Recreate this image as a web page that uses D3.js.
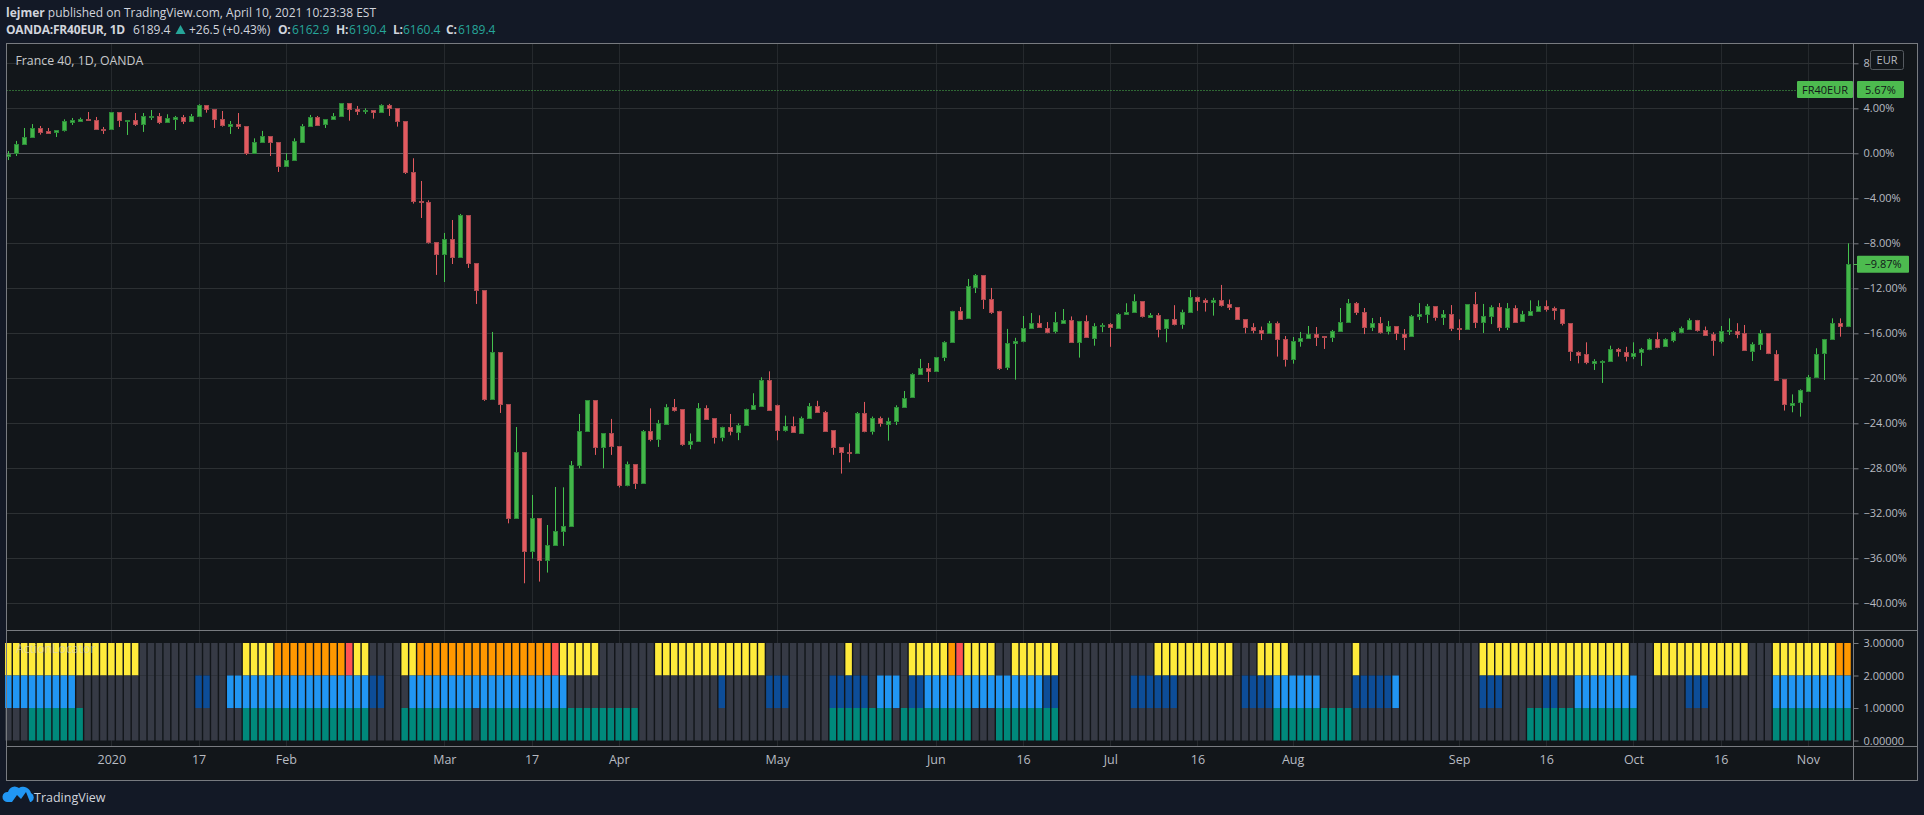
<!DOCTYPE html>
<html>
<head>
<meta charset="utf-8">
<title>France 40, 1D, OANDA</title>
<script src="https://cdnjs.cloudflare.com/ajax/libs/d3/7.8.5/d3.min.js"></script>
<style>
    html, body { margin: 0; padding: 0; background: #131926; overflow: hidden; }
    svg { display: block; }
    text { font-family: "Open Sans", sans-serif; }
</style>
</head>
<body>
<svg id="chart" width="1924" height="815"></svg>
<script>
// daily candles, in percent from the first bar of the chart
const opens = [
    -0.2, 0, 0.77, 1.39, 2.22, 1.98, 1.84, 2.01, 2.81, 2.9,
    3.02, 2.93, 2.16, 2.1, 3.64, 2.9, 2.93, 2.55, 3.23, 3.29,
    2.73, 3.08, 3.2, 2.81, 3.26, 4.27, 3.91, 3.02, 2.46, 2.58,
    2.4, 0, 0.95, 1.51, 0.98, -1.19, -0.65, 1.01, 2.37, 3.2,
    2.55, 2.99, 3.26, 4.44, 3.91, 3.7, 3.82, 3.61, 4.27, 4.0,
    2.84, -1.69, -4.27, -4.36, -7.91, -9.01, -7.64, -9.27, -5.51, -9.78,
    -12.18, -21.9, -17.69, -22.31, -32.48, -26.58, -35.38, -32.44, -36.21, -34.84,
    -33.63, -33.16, -27.76, -24.71, -21.96, -26.16, -24.89, -26.04, -29.54, -27.64,
    -29.36, -24.71, -25.45, -24.0, -22.52, -22.73, -25.81, -25.54, -22.61, -23.56,
    -25.27, -24.36, -24.74, -24.2, -22.76, -22.43, -20.15, -22.34, -24.53, -24.24,
    -24.8, -23.5, -22.43, -22.96, -24.62, -26.13, -26.58, -26.7, -23.11, -24.74,
    -23.56, -24.0, -23.76, -22.52, -21.72, -19.64, -19.11, -19.41, -18.13, -16.8,
    -14.02, -14.7, -11.88, -10.85, -12.95, -14.01, -19.05, -16.89, -16.71, -15.56,
    -15.11, -15.5, -15.85, -15.07, -14.84, -16.8, -14.93, -16.36, -15.35, -15.2,
    -15.5, -14.25, -14.13, -13.16, -14.52, -14.34, -15.56, -14.73, -15.14, -14.07,
    -12.74, -13.04, -13.2, -13.0, -13.42, -13.69, -14.76, -15.47, -15.7, -16.0,
    -15.11, -16.53, -18.34, -16.74, -16.48, -16.07, -16.24, -16.39, -15.86, -15.05,
    -13.34, -14.14, -15.5, -15.12, -15.86, -15.38, -16.03, -16.3, -14.52, -14.34,
    -13.6, -14.61, -14.32, -15.56, -15.68, -13.43, -15.05, -14.52, -13.69, -15.5,
    -13.78, -14.96, -14.3, -14.0, -13.54, -13.75, -13.87, -15.11, -17.63, -17.87,
    -18.7, -18.52, -18.52, -17.41, -17.63, -18.0, -17.72, -17.43, -16.53, -17.18,
    -16.6, -15.93, -15.6, -14.81, -15.67, -16.1, -16.65, -15.8, -15.76, -16.0,
    -17.54, -16.98, -16.0, -17.81, -20.09, -22.37, -22.13, -21.07, -19.85, -17.78,
    -16.56, -15.11, -15.41
];
const highs = [
    0.2, 1.1, 2.25, 2.6, 2.43, 2.25, 2.04, 3.02, 3.14, 3.17,
    3.67, 3.23, 2.34, 3.64, 3.64, 2.96, 3.58, 3.58, 3.85, 3.58,
    3.47, 3.32, 3.41, 3.5, 4.36, 4.27, 3.91, 3.76, 2.87, 3.58,
    2.4, 1.33, 1.99, 1.51, 0.98, 0, 1.33, 2.6, 3.41, 3.32,
    3.02, 3.58, 4.44, 4.44, 4.21, 4.0, 3.82, 4.36, 4.39, 4.0,
    2.84, -0.44, -2.46, -4.18, -7.91, -7.08, -5.93, -5.39, -5.51, -9.78,
    -12.18, -15.88, -17.69, -22.31, -24.33, -26.58, -30.37, -32.44, -33.04, -29.66,
    -29.69, -27.35, -23.17, -21.96, -21.96, -24.89, -23.61, -26.04, -27.4, -27.64,
    -24.6, -22.67, -23.7, -22.3, -21.84, -22.73, -24.9, -22.2, -22.4, -23.56,
    -24.3, -23.17, -24.0, -22.7, -21.33, -19.91, -19.38, -22.34, -23.32, -23.4,
    -23.4, -22.2, -22.0, -22.9, -24.62, -26.13, -25.8, -23.0, -22.1, -23.4,
    -23.4, -23.5, -22.4, -21.13, -19.55, -18.28, -18.64, -18.1, -16.7, -14.0,
    -13.66, -11.17, -10.73, -10.85, -11.97, -14.0, -15.61, -16.4, -14.46, -14.2,
    -14.4, -15.0, -14.1, -13.84, -14.5, -14.9, -14.4, -15.1, -15.1, -15.1,
    -14.2, -13.33, -12.53, -13.16, -14.2, -14.2, -14.73, -13.5, -13.9, -12.15,
    -12.74, -12.9, -12.84, -11.7, -13.0, -13.69, -14.76, -15.1, -15.4, -14.9,
    -14.95, -16.24, -16.33, -15.88, -15.35, -15.44, -16.24, -15.7, -13.75, -12.95,
    -13.22, -13.75, -14.64, -14.55, -14.9, -15.38, -15.62, -14.37, -13.31, -13.39,
    -13.6, -13.93, -13.49, -14.76, -13.43, -12.33, -13.39, -13.51, -13.31, -13.31,
    -13.51, -14.0, -13.07, -13.07, -13.07, -13.63, -13.87, -15.11, -17.6, -16.8,
    -18.3, -18.4, -17.1, -17.3, -17.2, -16.8, -17.3, -16.44, -15.9, -16.44,
    -15.8, -15.4, -14.67, -14.81, -15.4, -15.9, -15.35, -14.67, -15.1, -15.26,
    -16.8, -15.7, -16.0, -17.5, -20.09, -21.43, -20.98, -19.7, -17.33, -16.5,
    -14.67, -14.67, -8.0
];
const lows = [
    -0.6, -0.24, 0.77, 1.39, 1.66, 1.75, 1.45, 1.93, 2.52, 2.9,
    2.9, 2.1, 1.72, 2.1, 2.34, 1.63, 2.43, 1.9, 2.96, 2.6,
    2.73, 2.07, 2.6, 2.81, 3.26, 3.61, 2.25, 2.37, 1.72, 2.16,
    -0.15, 0, 0.95, -0.24, -1.66, -1.19, -0.65, 0.92, 2.37, 2.43,
    2.25, 2.99, 3.26, 2.9, 3.41, 3.5, 3.08, 3.61, 3.32, 2.37,
    -1.84, -4.47, -5.75, -8.03, -10.81, -11.44, -9.84, -9.27, -10.19, -13.39,
    -22.01, -21.9, -23.08, -32.89, -32.48, -38.22, -36.03, -38.07, -37.27, -34.84,
    -34.9, -33.16, -28.0, -24.71, -26.81, -28.0, -26.81, -29.7, -29.6, -29.84,
    -29.36, -25.6, -26.1, -24.0, -22.96, -26.0, -26.3, -25.54, -23.6, -25.8,
    -25.6, -25.07, -25.5, -24.2, -22.76, -22.43, -22.9, -25.51, -24.74, -24.8,
    -24.8, -23.5, -22.96, -24.7, -26.8, -28.47, -27.47, -26.7, -24.8, -25.0,
    -24.3, -25.54, -24.15, -22.52, -21.72, -19.64, -20.33, -19.41, -18.47, -16.8,
    -14.8, -14.7, -12.42, -13.84, -14.28, -19.26, -19.26, -20.12, -16.8, -15.56,
    -15.5, -16.0, -16.0, -15.07, -16.8, -18.16, -16.4, -17.1, -15.9, -17.2,
    -15.5, -14.25, -14.13, -14.6, -14.6, -16.36, -16.8, -15.3, -15.6, -14.07,
    -14.0, -14.07, -14.43, -13.63, -13.93, -14.8, -16.0, -16.0, -16.6, -16.0,
    -18.07, -18.96, -18.7, -17.19, -16.48, -17.13, -17.39, -16.77, -15.86, -15.05,
    -14.37, -16.07, -15.8, -16.03, -16.1, -16.6, -17.49, -16.3, -14.82, -15.09,
    -14.88, -15.26, -15.8, -16.6, -15.68, -15.53, -15.97, -15.18, -15.8, -15.71,
    -15.08, -14.96, -14.3, -14.07, -14.07, -14.8, -15.3, -18.46, -18.67, -18.75,
    -19.26, -20.41, -18.52, -18.07, -18.5, -18.3, -18.9, -17.5, -17.33, -17.2,
    -16.8, -16.0, -15.6, -15.85, -16.15, -18.0, -16.9, -16.15, -16.44, -17.57,
    -18.46, -17.48, -17.85, -20.15, -22.87, -23.02, -23.41, -21.07, -19.85, -20.15,
    -16.56, -16.3, -15.45
];
const closes = [
    -0.03, 0.83, 1.42, 2.22, 1.9, 1.84, 2.04, 2.84, 2.96, 3.05,
    2.9, 2.1, 2.1, 3.64, 2.9, 2.96, 2.55, 3.29, 3.32, 2.73,
    3.11, 3.23, 2.81, 3.29, 4.27, 3.88, 2.99, 2.46, 2.6, 2.37,
    -0.03, 0.98, 1.51, 0.95, -1.19, -0.62, 1.07, 2.4, 3.2, 2.52,
    3.02, 3.29, 4.44, 3.88, 3.7, 3.82, 3.61, 4.27, 4.0, 2.81,
    -1.72, -4.3, -4.39, -7.94, -9.01, -7.64, -9.27, -5.51, -9.81, -12.18,
    -21.9, -17.69, -22.34, -32.48, -26.58, -35.38, -32.44, -36.21, -34.84, -33.57,
    -33.16, -27.7, -24.71, -21.96, -26.16, -24.89, -26.07, -29.54, -27.64, -29.36,
    -24.71, -25.45, -24.0, -22.52, -22.79, -25.81, -25.54, -22.61, -23.59, -25.27,
    -24.36, -24.74, -24.15, -22.76, -22.4, -20.15, -22.79, -24.53, -24.21, -24.8,
    -23.5, -22.43, -22.96, -24.62, -26.13, -26.58, -26.7, -23.11, -24.74, -23.56,
    -24.0, -23.76, -22.52, -21.72, -19.64, -19.11, -19.41, -18.13, -16.8, -14.01,
    -14.7, -11.83, -10.82, -13.01, -14.08, -19.05, -16.89, -16.71, -15.56, -15.11,
    -15.5, -15.85, -15.02, -14.84, -16.8, -14.9, -16.39, -15.32, -15.27, -15.5,
    -14.25, -14.1, -13.16, -14.52, -14.34, -15.56, -14.73, -15.14, -14.07, -12.74,
    -13.1, -13.2, -13.0, -13.48, -13.72, -14.76, -15.5, -15.7, -16.0, -15.11,
    -16.56, -18.34, -16.71, -16.44, -16.1, -16.3, -16.36, -15.83, -15.03, -13.34,
    -14.17, -15.5, -15.12, -15.88, -15.38, -16.03, -16.3, -14.49, -14.32, -13.6,
    -14.61, -14.32, -15.59, -15.68, -13.43, -15.05, -14.49, -13.69, -15.5, -13.78,
    -14.99, -14.3, -13.98, -13.54, -13.84, -13.93, -15.11, -17.63, -17.87, -18.58,
    -18.49, -18.46, -17.41, -17.63, -17.99, -17.72, -17.43, -16.53, -17.24, -16.53,
    -15.9, -15.56, -14.81, -15.67, -16.1, -16.65, -15.76, -15.73, -16.0, -17.54,
    -16.95, -16.0, -17.81, -20.09, -22.34, -22.16, -21.04, -19.85, -17.81, -16.53,
    -15.11, -15.41, -9.87
];

// time axis: bar number and its label
const timeTicks = [13, 24, 35, 55, 66, 77, 97, 117, 128, 139, 150, 162, 183, 194, 205, 216, 227];
const timeLabels = ["2020", "17", "Feb", "Mar", "17", "Apr", "May", "Jun", "16", "Jul", "16", "Aug", "Sep", "16", "Oct", "16", "Nov"];

const pctTicks = [8, 4, 0, -4, -8, -12, -16, -20, -24, -28, -32, -36, -40];
const lastPct = -9.87;
const linePct = 5.67;
const locatorTicks = [3, 2, 1, 0];

// ActionLocator states as runs of bars: [first bar, last bar, state]
const topRuns = [
    [0, 16, "yellow"], [30, 33, "yellow"], [34, 42, "orange"], [43, 43, "red"], [44, 45, "yellow"],
    [50, 51, "yellow"], [52, 68, "orange"], [69, 69, "red"], [70, 74, "yellow"], [82, 95, "yellow"],
    [106, 106, "yellow"], [114, 118, "yellow"], [119, 119, "orange"], [120, 120, "red"], [121, 124, "yellow"],
    [127, 132, "yellow"], [145, 154, "yellow"], [158, 161, "yellow"], [170, 170, "yellow"], [186, 204, "yellow"],
    [208, 219, "yellow"], [223, 230, "yellow"], [231, 232, "orange"]
];
const midRuns = [
    [0, 8, "light"], [24, 25, "dark"], [28, 45, "light"], [46, 47, "dark"], [51, 70, "light"],
    [90, 90, "dark"], [96, 98, "dark"], [104, 108, "dark"], [110, 112, "light"], [114, 115, "dark"],
    [116, 130, "light"], [131, 132, "dark"], [142, 147, "dark"], [156, 159, "dark"], [160, 165, "light"],
    [170, 174, "dark"], [175, 175, "light"], [186, 188, "dark"], [194, 195, "dark"], [198, 205, "light"],
    [212, 214, "dark"], [223, 232, "light"]
];
const lowRuns = [
    [3, 9, "teal"], [30, 45, "teal"], [50, 58, "teal"], [60, 79, "teal"], [104, 111, "teal"],
    [113, 121, "teal"], [125, 132, "teal"], [160, 169, "teal"], [192, 205, "teal"], [223, 232, "teal"]
];

const stateColors = {
    gray: "#363a45", yellow: "#ffeb3b", orange: "#ff9800", red: "#ff5252",
    light: "#2196f3", dark: "#0d4d98", teal: "#00897b"
};

const svg = d3.select("#chart");
const upFill = "#43b649", upLine = "#2b8a38", upWick = "#45c24e";
const downFill = "#e25a5f", downLine = "#a84a50", downWick = "#e25a5f";
const textColor = "#b8bbc2";
const teal = "#26a69a";

const frameLeft = 6.5, frameRight = 1917.5, frameTop = 43.5, frameBottom = 780.5;
const axisX = 1853.5, paneLine = 630.5, timeLine = 746.5;

const x = d3.scaleLinear().domain([0, opens.length - 1]).range([8.3, 1847.5]);
const y = d3.scaleLinear().domain([0, -40]).range([153.3, 603.3]);
const yLocator = d3.scaleLinear().domain([0, 3]).range([740.5, 643]);
const snap = v => Math.round(v) + 0.5;

svg.append("rect")
    .attr("x", frameLeft).attr("y", frameTop)
    .attr("width", frameRight - frameLeft).attr("height", frameBottom - frameTop)
    .attr("fill", "#12161a");

// grid
const grid = svg.append("g").attr("fill", "none");
grid.selectAll(".v").data(timeTicks).enter().append("line")
    .attr("x1", d => snap(x(d))).attr("x2", d => snap(x(d)))
    .attr("y1", frameTop).attr("y2", timeLine)
    .attr("stroke", "#25292d");
grid.selectAll(".h").data(pctTicks).enter().append("line")
    .attr("x1", frameLeft).attr("x2", axisX)
    .attr("y1", d => snap(y(d))).attr("y2", d => snap(y(d)))
    .attr("stroke", d => d === 0 ? "#5a5d62" : "#2c3033");

// header
const header = svg.append("g").attr("font-size", 12).attr("fill", "#d1d4dc");
const line1 = header.append("text").attr("x", 6).attr("y", 17);
line1.append("tspan").attr("font-weight", 700).text("lejmer");
line1.append("tspan").text(" published on TradingView.com, April 10, 2021 10:23:38 EST");

const quote = [
    ["OANDA:FR40EUR, 1D", 6, 700, "#d1d4dc"], ["6189.4", 133, 400, "#d1d4dc"], ["+26.5 (+0.43%)", 189, 400, "#d1d4dc"],
    ["O:", 278, 700, "#d1d4dc"], ["6162.9", 292, 400, teal], ["H:", 336, 700, "#d1d4dc"], ["6190.4", 349, 400, teal],
    ["L:", 393, 700, "#d1d4dc"], ["6160.4", 403, 400, teal], ["C:", 446, 700, "#d1d4dc"], ["6189.4", 458, 400, teal]
];
header.selectAll(".q").data(quote).enter().append("text")
    .attr("x", d => d[1]).attr("y", 33.5)
    .attr("font-weight", d => d[2]).attr("fill", d => d[3])
    .attr("letter-spacing", d => d[2] === 700 ? -0.2 : 0)
    .text(d => d[0]);
header.append("path").attr("d", "M175.5 34 L180.5 25 L185.5 34 Z").attr("fill", teal);

svg.append("text").attr("x", 15.5).attr("y", 65).attr("font-size", 12.3).attr("fill", "#c8c9cb")
    .text("France 40, 1D, OANDA");

// dotted line of the last percent level
svg.append("line")
    .attr("x1", frameLeft).attr("x2", 1797)
    .attr("y1", snap(y(linePct))).attr("y2", snap(y(linePct)))
    .attr("stroke", "#4dbb4f").attr("stroke-dasharray", "1 2");

// candles
const candles = svg.append("g").selectAll("g").data(opens).enter().append("g");
candles.append("line")
    .attr("x1", (d, i) => snap(x(i))).attr("x2", (d, i) => snap(x(i)))
    .attr("y1", (d, i) => y(highs[i])).attr("y2", (d, i) => y(lows[i]))
    .attr("stroke", (d, i) => closes[i] >= d ? upWick : downWick);
candles.append("rect")
    .attr("x", (d, i) => snap(x(i)) - 2)
    .attr("y", (d, i) => Math.round(y(Math.max(d, closes[i]))) + 0.5)
    .attr("width", 4)
    .attr("height", (d, i) => Math.max(1, Math.round(Math.abs(y(d) - y(closes[i])))))
    .attr("fill", (d, i) => closes[i] >= d ? upFill : downFill)
    .attr("stroke", (d, i) => closes[i] >= d ? upLine : downLine);

// ActionLocator pane
function expandRuns(runs) {
    const states = opens.map(() => "gray");
    runs.forEach(r => {
        for (let i = r[0]; i <= r[1]; i++) states[i] = r[2];
    });
    return states;
}
const rows = [
    { base: 2, states: expandRuns(topRuns) },
    { base: 1, states: expandRuns(midRuns) },
    { base: 0, states: expandRuns(lowRuns) }
];
const locator = svg.append("g");
rows.forEach(row => {
    locator.append("g").selectAll("rect").data(row.states).enter().append("rect")
        .attr("x", (d, i) => x(i) - 3.25)
        .attr("width", 6.5)
        .attr("y", yLocator(row.base + 1))
        .attr("height", yLocator(row.base) - yLocator(row.base + 1))
        .attr("fill", d => stateColors[d]);
});
svg.append("text").attr("x", 16).attr("y", 653).attr("font-size", 12.3)
    .attr("fill", "#d0d0d0").attr("fill-opacity", 0.6)
    .text("ActionLocator");

// panes and frame
const frame = svg.append("g").attr("fill", "none").attr("stroke", "#787b80");
frame.append("rect").attr("x", frameLeft).attr("y", frameTop)
    .attr("width", frameRight - frameLeft).attr("height", frameBottom - frameTop);
frame.append("line").attr("x1", frameLeft).attr("x2", frameRight).attr("y1", paneLine).attr("y2", paneLine);
frame.append("line").attr("x1", axisX).attr("x2", axisX).attr("y1", frameTop).attr("y2", frameBottom);
frame.append("line").attr("x1", frameLeft).attr("x2", frameRight).attr("y1", timeLine).attr("y2", timeLine);

// axes
const pctFormat = d => (d < 0 ? "\u2212" : "") + Math.abs(d).toFixed(2) + "%";
const pctAxis = d3.axisRight(y).tickValues(pctTicks).tickFormat(pctFormat).tickSize(5).tickPadding(5);
const locatorAxis = d3.axisRight(yLocator).tickValues(locatorTicks).tickFormat(d => d.toFixed(5)).tickSize(5).tickPadding(5);
const timeAxis = d3.axisBottom(x).tickValues(timeTicks).tickFormat((d, i) => timeLabels[i]).tickSize(0).tickPadding(9);

function styleAxis(g) {
    g.select(".domain").remove();
    g.selectAll(".tick line").attr("stroke", "#787b80");
    g.selectAll(".tick text")
        .attr("fill", textColor)
        .attr("font-size", 11)
        .style("font-family", "\"Open Sans\", sans-serif");
}
svg.append("g").attr("transform", `translate(${axisX},0)`).call(pctAxis).call(styleAxis);
svg.append("g").attr("transform", `translate(${axisX},0)`).call(locatorAxis).call(styleAxis);
svg.append("g").attr("transform", `translate(0,${timeLine})`).call(timeAxis).call(styleAxis)
    .selectAll(".tick text").attr("font-size", 12.5);

// unit box over the top tick
svg.append("rect").attr("x", 1870.5).attr("y", 50.5).attr("width", 33).attr("height", 19).attr("rx", 2)
    .attr("fill", "#12161a").attr("stroke", "#555a60");
svg.append("text").attr("x", 1887).attr("y", 64).attr("text-anchor", "middle").attr("font-size", 11)
    .attr("fill", textColor).text("EUR");

// green price labels
function priceLabel(pct, left, width, label) {
    const cy = y(pct);
    svg.append("rect").attr("x", left).attr("y", cy - 8.5).attr("width", width).attr("height", 17).attr("rx", 1)
        .attr("fill", "#4dbb4f");
    svg.append("text").attr("x", left + width / 2).attr("y", cy + 4).attr("text-anchor", "middle")
        .attr("font-size", 11).attr("fill", "#12161a").text(label);
}
priceLabel(linePct, 1797, 56, "FR40EUR");
priceLabel(linePct, 1857, 47, pctFormat(linePct));
priceLabel(lastPct, 1857, 52, pctFormat(lastPct));
svg.append("line").attr("x1", axisX).attr("x2", 1859).attr("y1", snap(y(lastPct))).attr("y2", snap(y(lastPct)))
    .attr("stroke", "#4dbb4f");

// logo
svg.append("path")
    .attr("d", "M7 802 a5 5 0 0 1 1 -10 a7 7 0 0 1 11 -4 a8 8 0 0 1 12 5 a5 5 0 0 1 0 9 Z")
    .attr("fill", "#2196f3");
svg.append("path")
    .attr("d", "M12 802 l5 -7 l4 4 l5 -7 l4 10 Z")
    .attr("fill", "#131926");
svg.append("text").attr("x", 34).attr("y", 802).attr("font-size", 12.5).attr("fill", "#d1d4dc").text("TradingView");
</script>
</body>
</html>
